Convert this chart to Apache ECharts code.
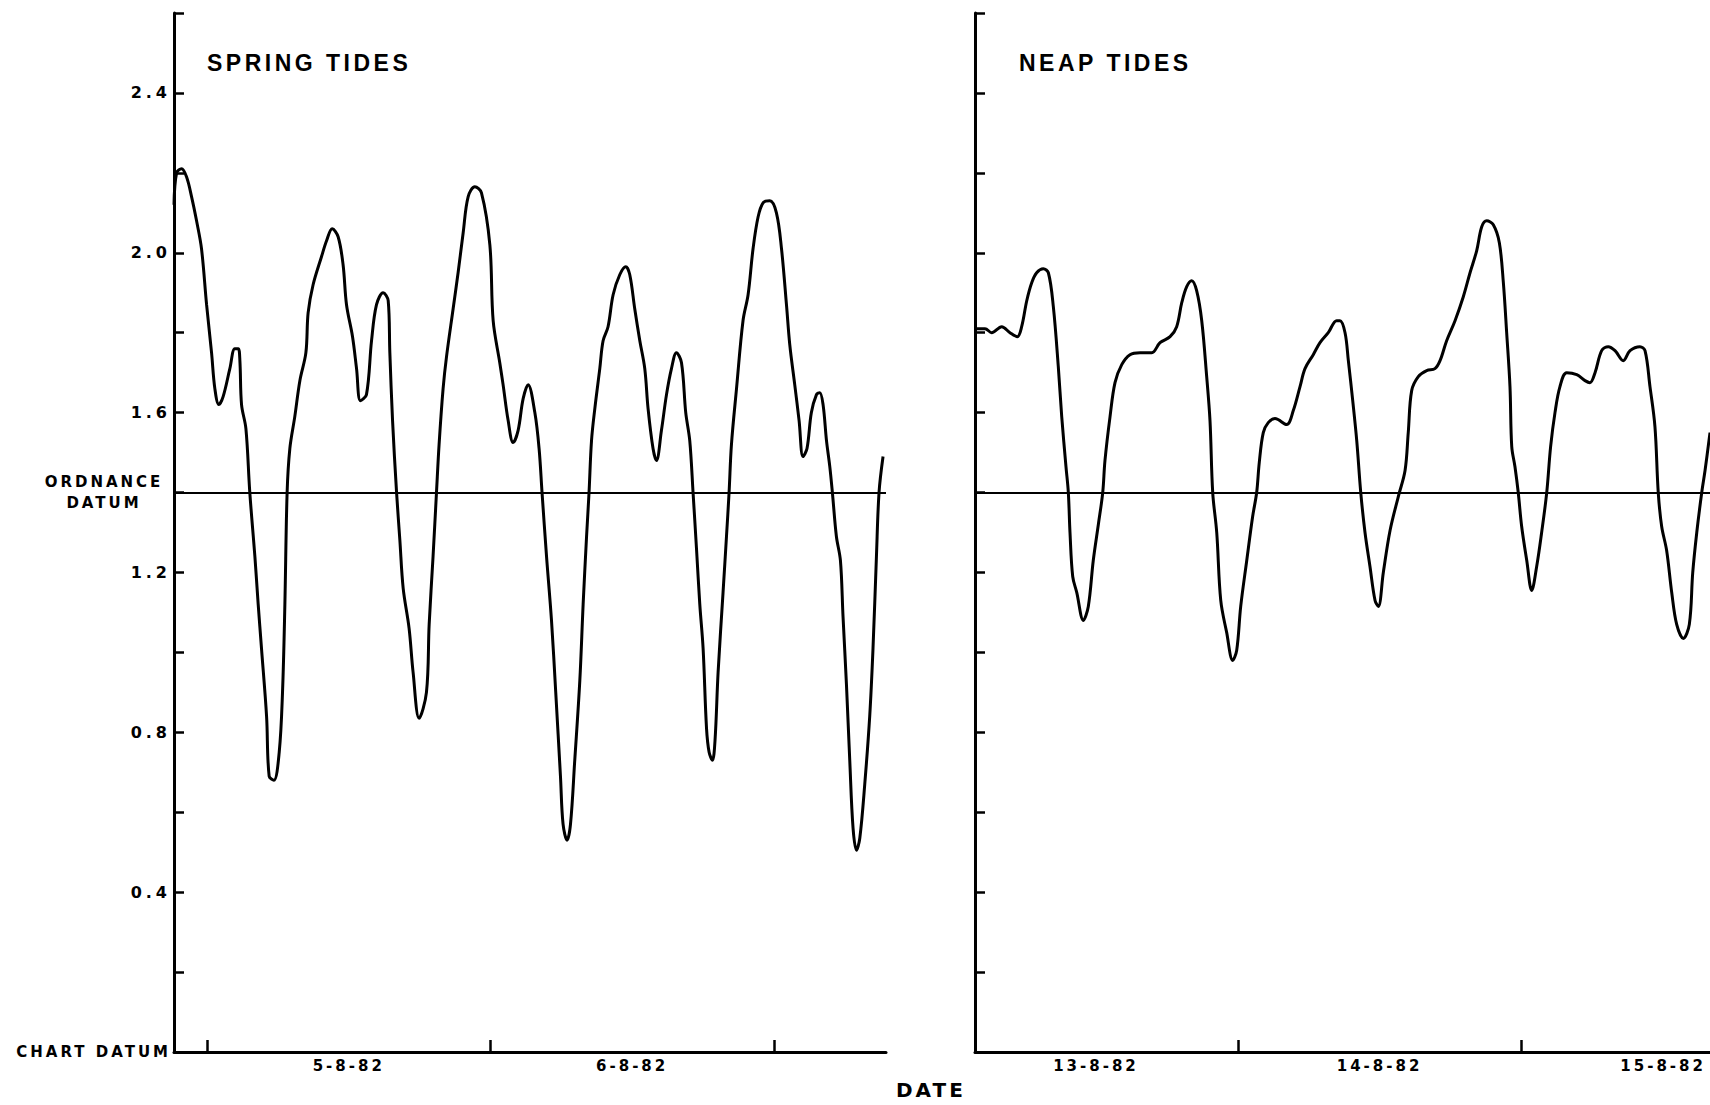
<!DOCTYPE html>
<html>
<head>
<meta charset="utf-8">
<script src="https://cdn.jsdelivr.net/npm/echarts@6/dist/echarts.min.js"></script>
<style>
  html, body { margin: 0; padding: 0; background: #fff; }
  #chart { width: 1710px; height: 1105px; }
  text[style*="Liberation"], text[font-family*="Liberation"] { letter-spacing: 3.5px; }
  text[style*="DejaVu"], text[font-family*="DejaVu"] { letter-spacing: 3px; }
  text[style*="DejaVu"][style*="16px"], text[font-family*="DejaVu"][font-size="16px"], text[font-family*="DejaVu"][font-size="16"] { letter-spacing: 4px; }
</style>
</head>
<body>
<div id="chart"></div>
<script>
// ---- DATA (hours from midnight of first labelled day; water level in metres above chart datum) ----
const ORDNANCE_DATUM = 1.4;

const springHours = [-2.8, -2.58, -2.16, -1.74, -1.31, -0.89, -0.47, -0.04, 0.38, 0.66, 1.0, 1.36, 1.93, 2.35, 2.64, 2.78, 2.92, 3.29, 3.62, 4.05, 4.33, 4.61, 5.04, 5.26, 5.66, 6.11, 6.39, 6.59, 6.78, 7.01, 7.43, 7.86, 8.37, 8.56, 8.98, 9.69, 10.12, 10.6, 11.1, 11.52, 11.81, 12.32, 12.66, 12.99, 13.5, 13.93, 14.35, 14.91, 15.34, 15.48, 15.71, 16.05, 16.33, 16.61, 17.11, 17.45, 17.96, 18.58, 18.81, 19.14, 19.43, 19.65, 19.99, 20.28, 20.84, 21.26, 21.69, 22.11, 22.68, 23.24, 23.95, 24.23, 24.79, 25.07, 25.5, 25.92, 26.34, 26.77, 27.19, 27.76, 28.12, 28.37, 28.75, 29.17, 29.53, 29.93, 30.15, 30.49, 30.78, 31.14, 31.57, 31.85, 32.14, 32.35, 32.56, 32.84, 33.26, 33.54, 33.96, 34.39, 34.95, 35.46, 35.8, 36.22, 36.65, 37.07, 37.35, 37.77, 38.06, 38.48, 38.91, 39.33, 39.75, 40.18, 40.54, 40.88, 41.16, 41.45, 41.73, 42.01, 42.3, 42.52, 42.8, 43.02, 43.28, 43.7, 43.99, 44.21, 44.41, 44.84, 45.39, 45.82, 46.24, 46.67, 47.09, 47.66, 48.22, 48.65, 49.07, 49.35, 49.77, 50.14, 50.47, 50.81, 51.18, 51.61, 51.89, 52.17, 52.46, 52.74, 52.96, 53.3, 53.64, 53.86, 54.15, 54.43, 54.71, 55.0, 55.28, 55.7, 56.12, 56.4, 56.69, 56.91, 57.25];
const springLevels = [2.12, 2.2, 2.21, 2.19, 2.14, 2.08, 2.01, 1.87, 1.75, 1.66, 1.62, 1.64, 1.71, 1.76, 1.76, 1.73, 1.62, 1.56, 1.4, 1.24, 1.12, 1.01, 0.84, 0.69, 0.68, 0.75, 0.9, 1.12, 1.4, 1.51, 1.59, 1.68, 1.75, 1.85, 1.92, 1.99, 2.03, 2.06, 2.04, 1.97, 1.87, 1.79, 1.71, 1.63, 1.645, 1.78, 1.87, 1.9, 1.88, 1.75, 1.58, 1.4, 1.28, 1.16, 1.06, 0.95, 0.835, 0.9, 1.07, 1.24, 1.4, 1.52, 1.66, 1.74, 1.86, 1.95, 2.05, 2.14, 2.165, 2.15, 2.02, 1.83, 1.725, 1.67, 1.58, 1.525, 1.555, 1.635, 1.67, 1.6, 1.51, 1.4, 1.24, 1.08, 0.9, 0.69, 0.57, 0.53, 0.57, 0.73, 0.93, 1.12, 1.29, 1.4, 1.53, 1.61, 1.71, 1.78, 1.815, 1.895, 1.945, 1.965, 1.945, 1.86, 1.78, 1.71, 1.61, 1.51, 1.48, 1.555, 1.645, 1.71, 1.75, 1.725, 1.6, 1.53, 1.4, 1.26, 1.12, 1.01, 0.81, 0.75, 0.73, 0.78, 0.95, 1.15, 1.29, 1.4, 1.52, 1.66, 1.83, 1.895, 2.01, 2.09, 2.125, 2.13, 2.1, 2.01, 1.87, 1.77, 1.67, 1.58, 1.49, 1.51, 1.6, 1.645, 1.65, 1.62, 1.53, 1.465, 1.4, 1.29, 1.23, 1.09, 0.92, 0.73, 0.56, 0.505, 0.535, 0.67, 0.84, 1.01, 1.24, 1.4, 1.49];

const neapHours = [1.8, 2.61, 3.17, 4.02, 4.72, 5.34, 5.71, 6.14, 6.56, 6.98, 7.54, 7.97, 8.39, 8.81, 9.1, 9.46, 9.66, 9.8, 10.03, 10.37, 10.93, 11.35, 11.77, 12.2, 12.57, 12.76, 13.19, 13.61, 14.18, 14.88, 15.73, 16.72, 17.42, 18.27, 18.83, 19.26, 19.68, 20.1, 20.52, 20.95, 21.37, 21.65, 21.88, 22.22, 22.56, 23.06, 23.57, 23.91, 24.25, 24.76, 25.26, 25.6, 25.82, 26.16, 26.58, 27.15, 28.14, 28.7, 29.27, 29.69, 30.39, 30.96, 31.66, 32.37, 32.65, 33.08, 33.36, 33.73, 34.07, 34.41, 34.77, 35.19, 35.62, 35.9, 36.32, 36.89, 37.59, 38.16, 38.43, 38.72, 39.28, 39.99, 40.69, 41.12, 41.68, 42.39, 43.09, 43.66, 44.22, 44.65, 45.07, 45.63, 46.14, 46.48, 46.76, 47.04, 47.19, 47.46, 47.74, 48.03, 48.46, 48.88, 49.3, 49.72, 50.15, 50.48, 50.85, 51.27, 51.84, 52.69, 53.39, 53.81, 54.24, 54.8, 55.36, 55.93, 56.63, 57.2, 58.04, 58.47, 58.89, 59.31, 59.59, 59.88, 60.3, 60.73, 61.15, 61.71, 62.22, 62.51, 62.85, 63.27, 63.55, 63.97];
const neapLevels = [1.81, 1.81, 1.8, 1.815, 1.8, 1.79, 1.815, 1.88, 1.925, 1.95, 1.96, 1.95, 1.865, 1.715, 1.59, 1.465, 1.4, 1.3, 1.19, 1.15, 1.08, 1.115, 1.23, 1.32, 1.4, 1.48, 1.59, 1.675, 1.72, 1.745, 1.75, 1.75, 1.775, 1.79, 1.815, 1.875, 1.915, 1.93, 1.905, 1.83, 1.69, 1.58, 1.4, 1.3, 1.13, 1.05, 0.98, 1.005, 1.115, 1.23, 1.34, 1.4, 1.475, 1.55, 1.575, 1.585, 1.57, 1.605, 1.665, 1.71, 1.745, 1.775, 1.8, 1.83, 1.83, 1.8, 1.73, 1.63, 1.53, 1.4, 1.3, 1.215, 1.13, 1.115, 1.2, 1.305, 1.39, 1.455, 1.55, 1.655, 1.69, 1.705, 1.71, 1.73, 1.78, 1.83, 1.89, 1.95, 2.005, 2.065, 2.08, 2.07, 2.025, 1.925, 1.8, 1.665, 1.515, 1.465, 1.4, 1.315, 1.23, 1.155, 1.215, 1.3, 1.4, 1.515, 1.6, 1.665, 1.7, 1.695, 1.68, 1.675, 1.7, 1.755, 1.765, 1.755, 1.73, 1.755, 1.765, 1.755, 1.665, 1.565, 1.4, 1.315, 1.255, 1.15, 1.07, 1.035, 1.07, 1.2, 1.3, 1.4, 1.455, 1.55];

const springDayLabels = ['5-8-82', '6-8-82'];
const springLabelHours = [12, 36];
const springTickHours = [0, 24, 48];

const neapDayLabels = ['13-8-82', '14-8-82', '15-8-82'];
const neapLabelHours = [12, 36, 60];
const neapTickHours = [24, 48];

const levelLabelValues = [0, 0.4, 0.8, 1.2, 1.6, 2.0, 2.4];

// ---- CHART ----
const chart = echarts.init(document.getElementById('chart'), null, { renderer: 'svg' });

const AX = { color: '#000', width: 3 };
const labelFont = { fontFamily: 'DejaVu Sans', fontWeight: 'bold', fontSize: 15, color: '#000' };

function levelLabel(v) {
  if (Math.abs(v) < 1e-6) return 'CHART DATUM';
  if (Math.abs(v - ORDNANCE_DATUM) < 1e-6) return '{o|ORDNANCE}\n{o|DATUM}';
  return '{n|' + v.toFixed(1) + '}';
}
function dayLabel(hours, names) {
  return function (v) {
    for (let i = 0; i < hours.length; i++) if (Math.abs(hours[i] - v) < 1e-6) return names[i];
    return '';
  };
}

function xAxisCfg(gridIndex, min, max, ticks, labelHours, names) {
  return {
    type: 'value', gridIndex, min, max,
    axisLine: { show: true, onZero: false, lineStyle: AX },
    axisTick: { show: true, inside: true, length: 12, customValues: ticks, lineStyle: { color: '#000', width: 2.5 } },
    axisLabel: Object.assign({ show: true, customValues: labelHours, formatter: dayLabel(labelHours, names), margin: 6 }, labelFont),
    splitLine: { show: false }
  };
}
function yAxisCfg(gridIndex, showLabels) {
  return {
    type: 'value', gridIndex, min: 0, max: 2.6, interval: 0.2,
    axisLine: { show: true, onZero: false, lineStyle: AX },
    axisTick: { show: true, inside: true, length: 10, lineStyle: { color: '#000', width: 2.5 } },
    axisLabel: showLabels ? Object.assign({
      show: true, margin: 3,
      customValues: levelLabelValues.concat([ORDNANCE_DATUM]),
      formatter: levelLabel,
      rich: {
        o: Object.assign({ width: 134, align: 'center', lineHeight: 21 }, labelFont),
        n: Object.assign({}, labelFont, { fontSize: 16 })
      }
    }, labelFont) : { show: false },
    splitLine: { show: false }
  };
}
function seriesCfg(idx, hours, levels) {
  return {
    type: 'line', xAxisIndex: idx, yAxisIndex: idx,
    data: hours.map((h, i) => [h, levels[i]]),
    smooth: 0.35, symbol: 'none', showSymbol: false,
    lineStyle: { color: '#000', width: 3 },
    animation: false,
    markLine: {
      silent: true, symbol: ['none', 'none'], animation: false,
      label: { show: false },
      lineStyle: { color: '#000', type: 'solid', width: 2 },
      data: [{ yAxis: ORDNANCE_DATUM }]
    }
  };
}

chart.setOption({
  backgroundColor: '#fff',
  animation: false,
  title: [
    { text: 'SPRING TIDES', left: 207, top: 51, padding: 0,
      textStyle: { fontFamily: 'Liberation Sans', fontWeight: 'bold', fontSize: 23, color: '#000' } },
    { text: 'NEAP TIDES', left: 1019, top: 51, padding: 0,
      textStyle: { fontFamily: 'Liberation Sans', fontWeight: 'bold', fontSize: 23, color: '#000' } },
    { text: 'DATE', left: 896, top: 1080, padding: 0,
      textStyle: { fontFamily: 'DejaVu Sans', fontWeight: 'bold', fontSize: 20, color: '#000' } }
  ],
  grid: [
    { left: 174, top: 13, width: 712, height: 1039 },
    { left: 975, top: 13, width: 735, height: 1039 }
  ],
  xAxis: [
    xAxisCfg(0, -2.8, 57.5, springTickHours, springLabelHours, springDayLabels),
    xAxisCfg(1, 1.76, 63.97, neapTickHours, neapLabelHours, neapDayLabels)
  ],
  yAxis: [yAxisCfg(0, true), yAxisCfg(1, false)],
  series: [seriesCfg(0, springHours, springLevels), seriesCfg(1, neapHours, neapLevels)]
});
</script>
</body>
</html>
